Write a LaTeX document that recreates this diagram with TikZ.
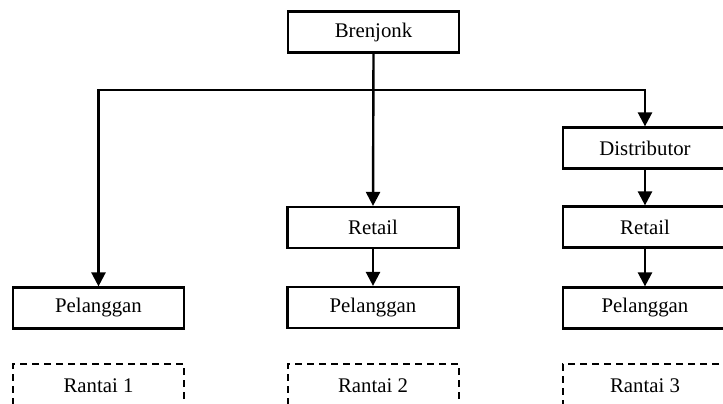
\documentclass[tikz,border=0pt]{standalone}
\usepackage{fontspec}
\setmainfont{Liberation Serif}
\usetikzlibrary{arrows.meta,positioning}
\begin{document}
\begin{tikzpicture}[
  x=0.5pt, y=-0.5pt,
  font=\fontsize{10.4}{12}\selectfont,
  box/.style={draw, line width=1.1pt, minimum width=85.5pt, minimum height=20.5pt, inner sep=0pt, fill=white},
  chainbox/.style={draw, dashed, dash pattern=on 3.5pt off 2.5pt, line width=1pt, minimum width=85.5pt, minimum height=22pt, inner sep=0pt},
  arrow/.style={-{Triangle[width=7pt,length=7pt]}, line width=1.2pt}
]
\clip (0,0) rectangle (723,403);

\node[box] (brenjonk) at (373.5,32) {Brenjonk};

\node[box] (pel1) at (98.5,308) {Pelanggan};

\node[box] (retail2) at (373,227.5) {Retail};
\node[box] (pel2) at (373,307.5) {Pelanggan};

\node[box, minimum width=82pt] (dist) at (645,148) {Distributor};
\node[box, minimum width=82pt] (retail3) at (645,227) {Retail};
\node[box, minimum width=82pt] (pel3) at (645,308) {Pelanggan};

\node[chainbox] (rantai1) at (98.5,386) {Rantai 1};
\node[chainbox] (rantai2) at (373,386) {Rantai 2};
\node[chainbox, minimum width=82pt] (rantai3) at (645,386) {Rantai 3};

% trunk and branches
\coordinate (split) at (373,90);
\draw[arrow] (brenjonk.south) -- (retail2.north);
\draw[arrow] (split) -| (pel1.north);
\draw[arrow] (split) -| (dist.north);

\draw[arrow] (retail2.south) -- (pel2.north);
\draw[arrow] (dist.south) -- (retail3.north);
\draw[arrow] (retail3.south) -- (pel3.north);

\end{tikzpicture}
\end{document}
